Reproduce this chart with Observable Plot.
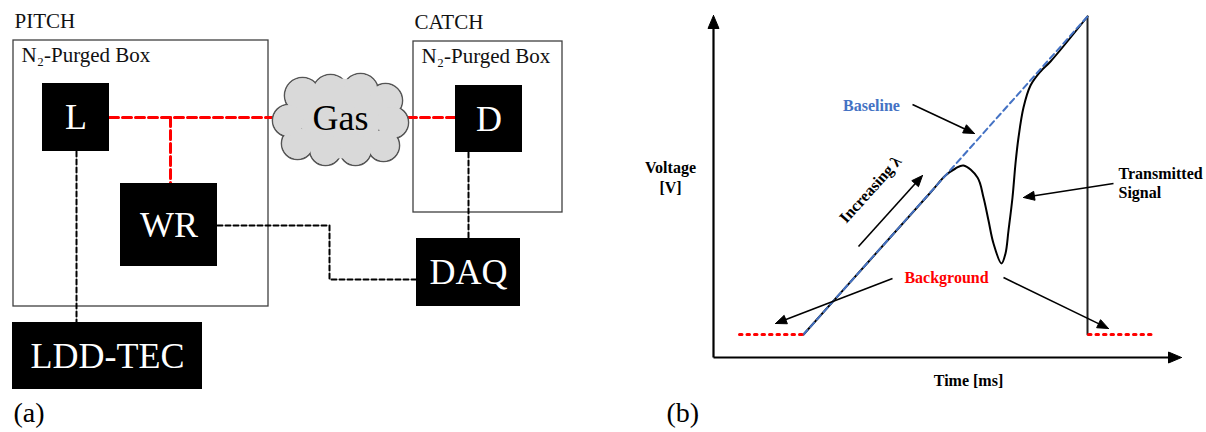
<!DOCTYPE html>
<html><head><meta charset="utf-8">
<script src="https://cdn.jsdelivr.net/npm/d3@7"></script>
<script src="https://cdn.jsdelivr.net/npm/@observablehq/plot@0.6"></script>
<style>body{margin:0;background:#fff}svg{display:block}</style>
</head><body><div id="chart"></div>
<script>
// ---------- Panel (a): setup schematic ----------
const enclosureNames = ["PITCH", "CATCH"];
const enclosureX1 = [13, 413], enclosureX2 = [268, 562];
const enclosureY1 = [40, 41], enclosureY2 = [306, 212];
const enclosureSub = ["N\u2082-Purged Box", "N\u2082-Purged Box"];

const deviceNames = ["L", "WR", "D", "DAQ", "LDD-TEC"];
const deviceX1 = [42, 120, 455, 416, 12];
const deviceX2 = [109, 217, 522, 520, 202];
const deviceY1 = [83, 183, 85, 238, 322];
const deviceY2 = [151, 266, 152, 306, 389];

// optical (red) path segments and electrical (black) path segments, as polylines
const opticalPaths = [
  [[109, 117], [273, 117]],
  [[407, 117], [455, 117]],
  [[170, 117], [170, 183]]
];
const electricalPaths = [
  [[76, 151], [76, 322]],
  [[217, 225], [329, 225], [329, 279], [416, 279]],
  [[468, 152], [468, 238]]
];
// gas cloud lobes: centre x, centre y, radius
const cloudX = [302, 330, 360, 385, 392, 383, 355, 325, 297, 288];
const cloudY = [95, 92, 91, 100, 122, 145, 149, 149, 143, 120];
const cloudR = [18, 18, 18, 17, 16, 16, 16, 16, 16, 16];
const cloudCore = {x: 340, y: 118, r: 40, label: "Gas"};

// ---------- Panel (b): signal sketch ----------
const axisOrigin = [713, 357], axisYTop = [713, 15], axisXEnd = [1181, 357];
const baselinePts = [[803, 334], [1087, 16]];
const signalPts = [[803, 334], [870, 259], [930, 192], [945, 175], [955, 168], [963, 165],
  [977, 177], [983, 197], [988, 220], [993, 243], [1001, 263], [1005, 253], [1008, 230],
  [1012, 197], [1015, 163], [1018, 137], [1023, 107], [1030, 85], [1040, 71], [1050, 61], [1087, 16]];
const dropPts = [[1087, 16], [1087, 334]];
const backgroundPts = [[[739, 334], [803, 334]], [[1088, 334], [1151, 334]]];
const calloutFrom = [[912, 104], [858, 246], [1113, 183], [892, 278], [1003, 277]];
const calloutTo = [[974, 133], [922, 175], [1023, 197], [775, 323], [1108, 328]];

const SERIF = "'Liberation Serif','Times New Roman',serif";

// ---------- helpers ----------
function polyRows(paths) {
  const rows = [];
  paths.forEach((p, i) => p.forEach(([x, y]) => rows.push({x, y, z: i})));
  return rows;
}
function headRows(froms, tos, len, half) {
  const rows = [];
  froms.forEach((f, i) => {
    const t = tos[i];
    const dx = t[0] - f[0], dy = t[1] - f[1], L = Math.hypot(dx, dy);
    const ux = dx / L, uy = dy / L, bx = t[0] - ux * len, by = t[1] - uy * len;
    rows.push({x: t[0], y: t[1], z: i}, {x: bx - uy * half, y: by + ux * half, z: i},
              {x: bx + uy * half, y: by - ux * half, z: i}, {x: t[0], y: t[1], z: i});
  });
  return rows;
}
function shaftRows(froms, tos, len) {
  return froms.map((f, i) => {
    const t = tos[i];
    const dx = t[0] - f[0], dy = t[1] - f[1], L = Math.hypot(dx, dy);
    return {x1: f[0], y1: f[1], x2: t[0] - dx / L * len * 0.7, y2: t[1] - dy / L * len * 0.7};
  });
}

const enclosures = enclosureNames.map((n, i) => ({name: n, sub: enclosureSub[i],
  x1: enclosureX1[i], x2: enclosureX2[i], y1: enclosureY1[i], y2: enclosureY2[i]}));
const devices = deviceNames.map((n, i) => ({name: n,
  x1: deviceX1[i], x2: deviceX2[i], y1: deviceY1[i], y2: deviceY2[i],
  cx: (deviceX1[i] + deviceX2[i]) / 2, cy: (deviceY1[i] + deviceY2[i]) / 2}));
const lobes = cloudX.map((x, i) => ({x, y: cloudY[i], r: cloudR[i]}));
const cloudFill = lobes.map(d => ({...d, r: d.r - 0.8})).concat([cloudCore]);

const axisFrom = [axisOrigin, axisOrigin], axisTo = [axisYTop, axisXEnd];
const toRows = pts => pts.map(([x, y]) => ({x, y}));

const chart = Plot.plot({
  width: 1206, height: 432, margin: 0,
  x: {domain: [0, 1206], range: [0, 1206], axis: null},
  y: {domain: [0, 432], range: [0, 432], axis: null},
  r: {type: "identity"},
  style: {background: "#fff"},
  marks: [
    // ----- panel (a)
    Plot.rect(enclosures, {x1: "x1", x2: "x2", y1: "y1", y2: "y2", fill: "none", stroke: "#404040", strokeWidth: 1.3}),
    Plot.text(enclosures, {x: "x1", y: d => d.y1 - 19, text: "name", textAnchor: "start", dx: 1, fontFamily: SERIF, fontSize: 21, fill: "#111"}),
    Plot.text(enclosures, {x: "x1", y: d => d.y1 + 15, text: "sub", textAnchor: "start", dx: 8, fontFamily: SERIF, fontSize: 21, fill: "#111"}),
    Plot.line(polyRows(opticalPaths), {x: "x", y: "y", z: "z", stroke: "#ff0000", strokeWidth: 3, strokeDasharray: "9,4"}),
    Plot.line(polyRows(electricalPaths), {x: "x", y: "y", z: "z", stroke: "#000", strokeWidth: 2, strokeDasharray: "5,3"}),
    Plot.dot(lobes, {x: "x", y: "y", r: "r", fill: "#d9d9d9", stroke: "#555", strokeWidth: 1.6}),
    Plot.dot(cloudFill, {x: "x", y: "y", r: "r", fill: "#d9d9d9", stroke: "none"}),
    Plot.text([cloudCore], {x: "x", y: "y", text: "label", fontFamily: SERIF, fontSize: 36, fill: "#000"}),
    Plot.rect(devices, {x1: "x1", x2: "x2", y1: "y1", y2: "y2", fill: "#000"}),
    Plot.text(devices, {x: "cx", y: "cy", text: "name", fontFamily: SERIF, fontSize: 36, fill: "#fff"}),
    Plot.text(["(a)"], {x: 13, y: 413, text: d => d, textAnchor: "start", fontFamily: SERIF, fontSize: 28, fill: "#000"}),
    // ----- panel (b)
    Plot.line(toRows(signalPts), {x: "x", y: "y", stroke: "#000", strokeWidth: 2, curve: "catmull-rom"}),
    Plot.line(toRows(dropPts), {x: "x", y: "y", stroke: "#222", strokeWidth: 2}),
    Plot.line(toRows(baselinePts), {x: "x", y: "y", stroke: "#4472c4", strokeWidth: 2, strokeDasharray: "6,4"}),
    Plot.line(polyRows(backgroundPts), {x: "x", y: "y", z: "z", stroke: "#ff0000", strokeWidth: 3, strokeDasharray: "2.5,5"}),
    Plot.link(shaftRows(axisFrom, axisTo, 12), {x1: "x1", y1: "y1", x2: "x2", y2: "y2", stroke: "#000", strokeWidth: 2.2}),
    Plot.line(headRows(axisFrom, axisTo, 13, 5.5), {x: "x", y: "y", z: "z", fill: "#000", stroke: "#000", strokeWidth: 1}),
    Plot.link(shaftRows(calloutFrom, calloutTo, 11), {x1: "x1", y1: "y1", x2: "x2", y2: "y2", stroke: "#000", strokeWidth: 1.6}),
    Plot.line(headRows(calloutFrom, calloutTo, 11, 4.5), {x: "x", y: "y", z: "z", fill: "#000", stroke: "#000", strokeWidth: 1}),
    Plot.text(["Baseline"], {x: 871, y: 105, text: d => d, fontFamily: SERIF, fontSize: 16, fontWeight: "bold", fill: "#4472c4"}),
    Plot.text(["Increasing \u03bb"], {x: 870, y: 189, text: d => d, rotate: -48, fontFamily: SERIF, fontSize: 16, fontWeight: "bold", fill: "#000"}),
    Plot.text(["Voltage", "[V]"], {x: 670, y: (d, i) => 167 + i * 20, text: d => d, fontFamily: SERIF, fontSize: 16, fontWeight: "bold", fill: "#000"}),
    Plot.text(["Transmitted", "Signal"], {x: 1118, y: (d, i) => 173 + i * 19, text: d => d, textAnchor: "start", fontFamily: SERIF, fontSize: 16, fontWeight: "bold", fill: "#000"}),
    Plot.text(["Background"], {x: 946, y: 277, text: d => d, fontFamily: SERIF, fontSize: 16, fontWeight: "bold", fill: "#ff0000"}),
    Plot.text(["Time [ms]"], {x: 968, y: 380, text: d => d, fontFamily: SERIF, fontSize: 16, fontWeight: "bold", fill: "#000"}),
    Plot.text(["(b)"], {x: 666, y: 413, text: d => d, textAnchor: "start", fontFamily: SERIF, fontSize: 28, fill: "#000"})
  ]
});
document.getElementById("chart").append(chart);
</script>
</body></html>
